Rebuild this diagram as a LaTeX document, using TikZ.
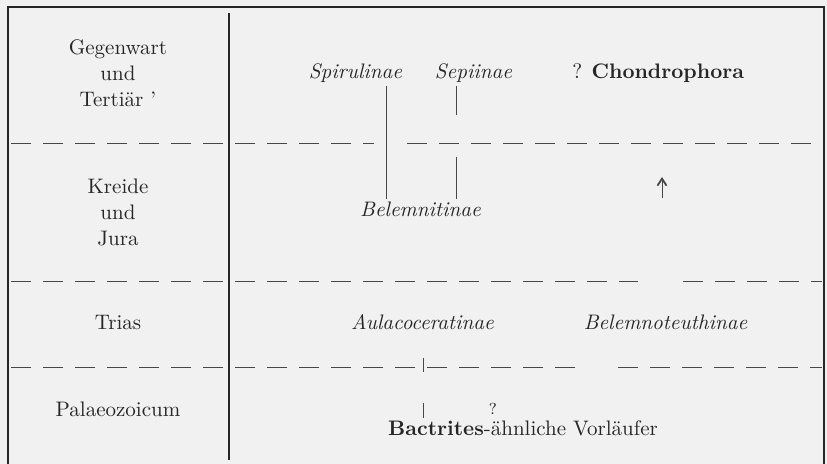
\documentclass[tikz,border=0pt]{standalone}
\usetikzlibrary{arrows.meta}
\definecolor{bg}{RGB}{241,241,241}
\definecolor{ink}{RGB}{38,38,38}
\begin{document}
\begin{tikzpicture}[x=0.5pt,y=-0.5pt,
  every node/.style={inner sep=0pt, text=ink, font=\fontsize{10.5}{13}\selectfont},
  frame/.style={draw=ink, line width=1pt},
  divider/.style={draw=ink!85, line width=0.5pt, dash pattern=on 10pt off 6pt},
  link/.style={draw=ink!85, line width=0.5pt},
  taxon/.style={font=\fontsize{10.5}{13}\selectfont\itshape, anchor=base, outer sep=1.5pt},
  era/.style={align=center, anchor=center},
  eraline/.style={anchor=base}]
\fill[bg] (0,0) rectangle (827,464);
\useasboundingbox (0,0) rectangle (827,464);
% frame
\draw[frame] (7.5,464) -- (7.5,7) -- (824,7) -- (824,464);
\draw[frame] (229,13) -- (229,460);
% dividers
\draw[divider] (11,144) -- (374,144);
\draw[divider] (407,144) -- (822,144);
\draw[divider] (11,282) -- (638,282);
\draw[divider] (683,282) -- (822,282);
\draw[divider] (11,368) -- (575,368);
\draw[divider] (618,368) -- (822,368);
% eras
\node[era] (e1) at (118,73) {Gegenwart\\und\\Tertiär '};
\node[era] (e2) at (118,212) {Kreide\\und\\Jura};
\node[eraline] (e3) at (118,330) {Trias};
\node[eraline] (e4) at (118,417) {Palaeozoicum};
% taxa
\node[taxon] (spir) at (355.5,79) {Spirulinae};
\node[taxon] (sepi) at (473.5,79) {Sepiinae};
\node[anchor=base west] (chon) at (572,79) {? \textbf{Chondrophora}};
\node[taxon] (belm) at (420.5,217) {Belemnitinae};
\node[taxon] (aula) at (422.5,330) {Aulacoceratinae};
\node[taxon] (bteu) at (665.5,330) {Belemnoteuthinae};
\node[anchor=base] (bact) at (523,436) {\textbf{Bactrites}-ähnliche Vorläufer};
\node[font=\fontsize{8}{9}\selectfont, anchor=base] (q) at (493,415) {?};
% links
\coordinate (c1) at (386,0);
\coordinate (c2) at (456,0);
\draw[link] (spir.south -| c1) -- (belm.north -| c1);
\coordinate (g1) at (456,115);
\coordinate (g2) at (456,157);
\draw[link] (sepi.south -| c2) -- (g1);
\draw[link] (g2) -- (belm.north -| c2);
\coordinate (t1) at (423,358);
\coordinate (t2) at (423,372);
\coordinate (t3) at (423,403);
\coordinate (t4) at (423,418);
\draw[link] (t1) -- (t2);
\draw[link] (t3) -- (t4);
% arrow
\coordinate (a0) at (662,198);
\coordinate (a1) at (662,177);
\draw[link,-{Straight Barb[length=3.5pt,width=4.5pt,line width=0.9pt]}] (a0) -- (a1);
\end{tikzpicture}
\end{document}
